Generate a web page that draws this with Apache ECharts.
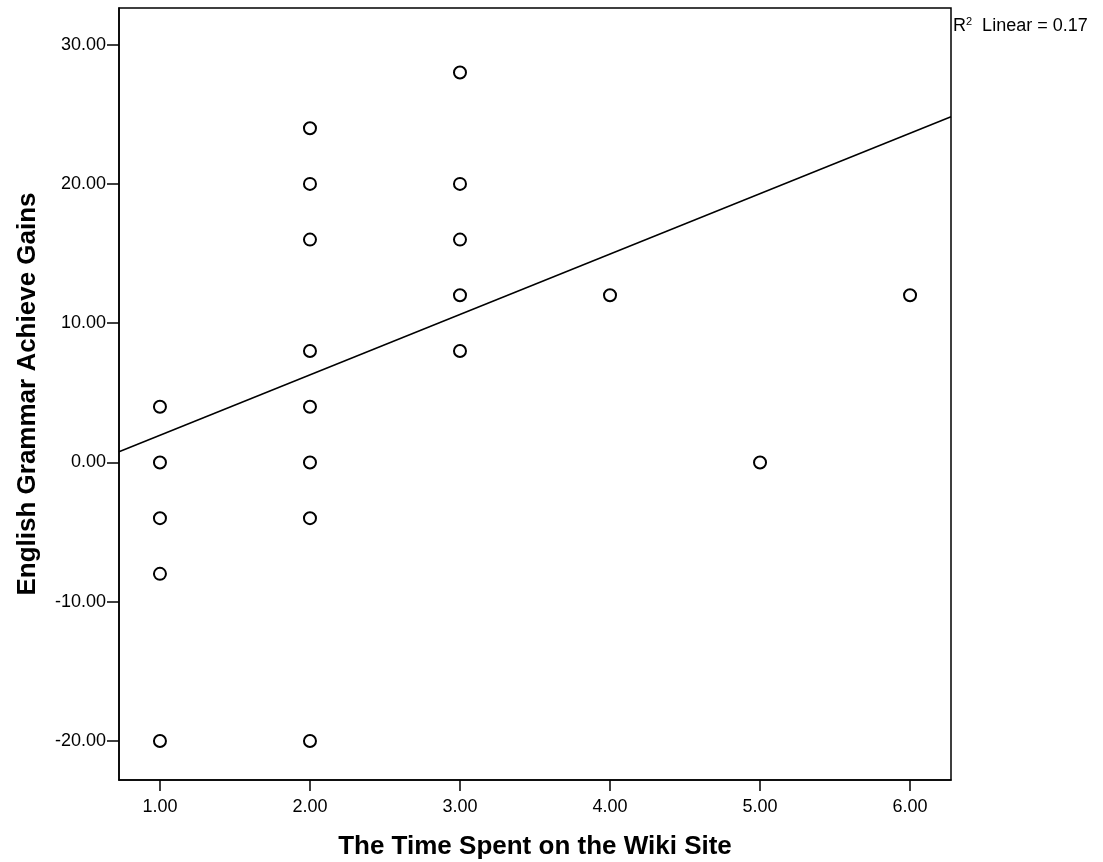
<!DOCTYPE html>
<html>
<head>
<meta charset="utf-8">
<script src="https://cdn.jsdelivr.net/npm/echarts@6/dist/echarts.min.js"></script>
<style>
html,body{margin:0;padding:0;background:#fff;}
#chart{width:1103px;height:862px;}
</style>
</head>
<body>
<div id="chart"></div>
<script>
// Data
const timeSpent = [1,1,1,1,1, 2,2,2,2,2,2,2,2, 3,3,3,3,3, 4, 5, 6];
const grammarGains = [4,0,-4,-8,-20, 24,20,16,8,4,0,-4,-20, 28,20,16,12,8, 12, 0, 12];
const fitX = [0.727, 6.273];
const fitY = [0.77, 24.82];
const xTicks = [1,2,3,4,5,6];
const yTicks = [-20,-10,0,10,20,30];
const xTitle = 'The Time Spent on the Wiki Site';
const yTitle = 'English Grammar Achieve Gains';
const r2Text = '0.17';

const points = timeSpent.map((x,i)=>[x, grammarGains[i]]);
const fitLine = fitX.map((x,i)=>[x, fitY[i]]);

const font = '"Liberation Sans", Arial, sans-serif';
const chart = echarts.init(document.getElementById('chart'));
chart.setOption({
  animation:false,
  backgroundColor:'#fff',
  grid:{left:119, top:8, width:832, height:772, show:true, borderColor:'#000', borderWidth:1.5, backgroundColor:'transparent', containLabel:false, outerBoundsMode:'none'},
  xAxis:{
    type:'value', min:0.727, max:6.273,
    name:xTitle, nameLocation:'middle', nameGap:54,
    nameTextStyle:{fontFamily:font, fontWeight:'bold', fontSize:26, color:'#000'},
    axisLine:{show:true, onZero:false, lineStyle:{color:'#000', width:1.5}},
    axisTick:{show:true, length:11, customValues:xTicks, lineStyle:{color:'#000', width:1.5}},
    axisLabel:{customValues:xTicks, formatter:v=>Number(v).toFixed(2), fontFamily:font, fontSize:18, color:'#000', margin:18},
    splitLine:{show:false}
  },
  yAxis:{
    type:'value', min:-22.8, max:32.63,
    name:yTitle, nameLocation:'middle', nameGap:78, nameRotate:90,
    nameTextStyle:{fontFamily:font, fontWeight:'bold', fontSize:26, color:'#000'},
    axisLine:{show:true, onZero:false, lineStyle:{color:'#000', width:1.5}},
    axisTick:{show:true, length:12, customValues:yTicks, lineStyle:{color:'#000', width:1.5}},
    axisLabel:{customValues:yTicks, formatter:v=>Number(v).toFixed(2), fontFamily:font, fontSize:18, color:'#000', margin:13},
    splitLine:{show:false}
  },
  graphic:[{
    type:'text', left:953, top:16,
    style:{
      text:'R{sup|2}  Linear = ' + r2Text,
      font:'18px "Liberation Sans", Arial, sans-serif',
      fill:'#000',
      rich:{sup:{fontSize:11, verticalAlign:'top', fontFamily:font, padding:[0,0,9,0]}}
    }
  }],
  series:[
    {
      type:'line', data:fitLine, symbol:'none', silent:true,
      lineStyle:{color:'#000', width:1.5}, z:1
    },
    {
      type:'scatter', data:points, symbol:'circle', symbolSize:12,
      itemStyle:{color:'#fff', borderColor:'#000', borderWidth:2, opacity:1}, z:2
    }
  ]
});
</script>
</body>
</html>
